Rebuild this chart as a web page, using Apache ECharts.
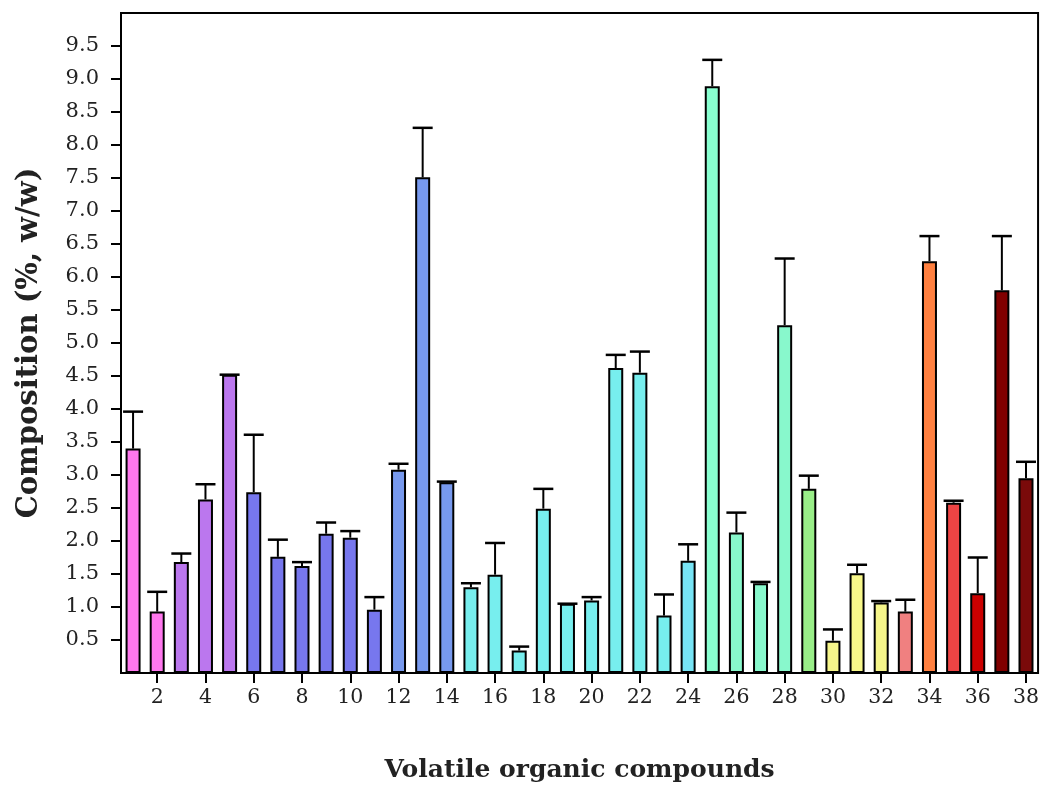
<!DOCTYPE html>
<html>
<head>
<meta charset="utf-8">
<script src="https://cdn.jsdelivr.net/npm/echarts@6/dist/echarts.min.js"></script>
<style>
html,body{margin:0;padding:0;background:#fff;}
#chart{width:1042px;height:791px;}
</style>
</head>
<body>
<div id="chart"></div>
<script>
// ---- data ----
const categories = ['1','2','3','4','5','6','7','8','9','10','11','12','13','14','15','16','17','18','19','20',
  '21','22','23','24','25','26','27','28','29','30','31','32','33','34','35','36','37','38'];
const values = [3.40,0.93,1.68,2.63,4.52,2.74,1.76,1.62,2.11,2.05,0.96,3.08,7.51,2.89,1.30,1.49,0.34,2.49,1.05,1.10,
  4.62,4.55,0.87,1.70,8.89,2.13,1.36,5.27,2.79,0.49,1.51,1.07,0.93,6.24,2.58,1.21,5.80,2.95];
const errors = [0.56,0.30,0.13,0.23,0.00,0.87,0.26,0.06,0.17,0.10,0.19,0.09,0.75,0.01,0.06,0.48,0.06,0.30,0.00,0.05,
  0.20,0.32,0.32,0.25,0.40,0.30,0.02,1.01,0.20,0.17,0.13,0.02,0.18,0.38,0.03,0.54,0.82,0.25];
const yTickLabels = ['0.5','1.0','1.5','2.0','2.5','3.0','3.5','4.0','4.5','5.0','5.5','6.0','6.5','7.0','7.5','8.0','8.5','9.0','9.5'];
const xTickLabels = ['2','4','6','8','10','12','14','16','18','20','22','24','26','28','30','32','34','36','38'];
const palette = ['#ff77ee','#ff77ee','#bb77ee','#bb77ee','#bb77ee','#7777ee','#7777ee','#7777ee','#7777ee','#7777ee',
  '#7777ee','#7799ee','#7799ee','#7799ee','#77eeee','#77eeee','#77eeee','#77eeee','#77eeee','#77eeee',
  '#77eeee','#77eeee','#77eeee','#77e4f5','#88ffd0','#88f8cc','#88f8cc','#88f8cc','#99ee88','#f5f58a',
  '#f8f88a','#f5f58a','#f08080','#ff8040','#ee4444','#cc0000','#800000','#7a0a0a'];

const serif = '"DejaVu Serif", "Liberation Serif", serif';
const chart = echarts.init(document.getElementById('chart'));
chart.setOption({
  animation: false,
  backgroundColor: '#fff',
  grid: { left: 121, right: 1, top: 13, bottom: 118, show: true, borderColor: '#000', borderWidth: 2, backgroundColor: 'transparent' },
  xAxis: {
    type: 'category',
    data: categories,
    boundaryGap: true,
    name: 'Volatile organic compounds',
    nameLocation: 'middle',
    nameGap: 85,
    nameTextStyle: { fontFamily: serif, fontWeight: 'bold', fontSize: 25, color: '#222' },
    axisLine: { lineStyle: { color: '#000', width: 2 } },
    axisTick: { show: true, alignWithLabel: true, length: 10, lineStyle: { color: '#000', width: 2 },
      interval: (i, v) => xTickLabels.indexOf(v) >= 0 },
    axisLabel: { fontFamily: serif, fontSize: 20.5, color: '#222', margin: 14,
      interval: (i, v) => xTickLabels.indexOf(v) >= 0 },
    splitLine: { show: false }
  },
  yAxis: {
    type: 'value',
    min: 0, max: 10, interval: 0.5,
    name: 'Composition (%, w/w)',
    nameLocation: 'middle',
    nameGap: 77,
    nameRotate: 90,
    nameTextStyle: { fontFamily: serif, fontWeight: 'bold', fontSize: 29, color: '#222' },
    axisLine: { show: true, lineStyle: { color: '#000', width: 2 } },
    axisTick: { show: true, length: 10, lineStyle: { color: '#000', width: 2 },
      customValues: yTickLabels.map(Number) },
    axisLabel: { fontFamily: serif, fontSize: 21, color: '#222', margin: 22,
      customValues: yTickLabels.map(Number),
      formatter: v => v.toFixed(1) },
    splitLine: { show: false }
  },
  series: [
    {
      type: 'bar',
      barWidth: 15,
      data: values.map((v, i) => ({ value: v, itemStyle: { color: palette[i] } })),
      itemStyle: { borderColor: '#000', borderWidth: 2 },
      z: 2
    },
    {
      type: 'custom',
      data: values.map((v, i) => [i, v, errors[i]]),
      z: 3,
      renderItem: (params, api) => {
        const x = api.value(0), v = api.value(1), e = api.value(2);
        const base = api.coord([x, v]);
        const top = api.coord([x, v + e]);
        const half = 10;
        return {
          type: 'group',
          children: [
            { type: 'line', shape: { x1: base[0], y1: base[1], x2: top[0], y2: top[1] }, style: { stroke: '#000', lineWidth: 2 } },
            { type: 'line', shape: { x1: top[0] - half, y1: top[1], x2: top[0] + half, y2: top[1] }, style: { stroke: '#000', lineWidth: 2.5 } }
          ]
        };
      }
    }
  ]
});
</script>
</body>
</html>
